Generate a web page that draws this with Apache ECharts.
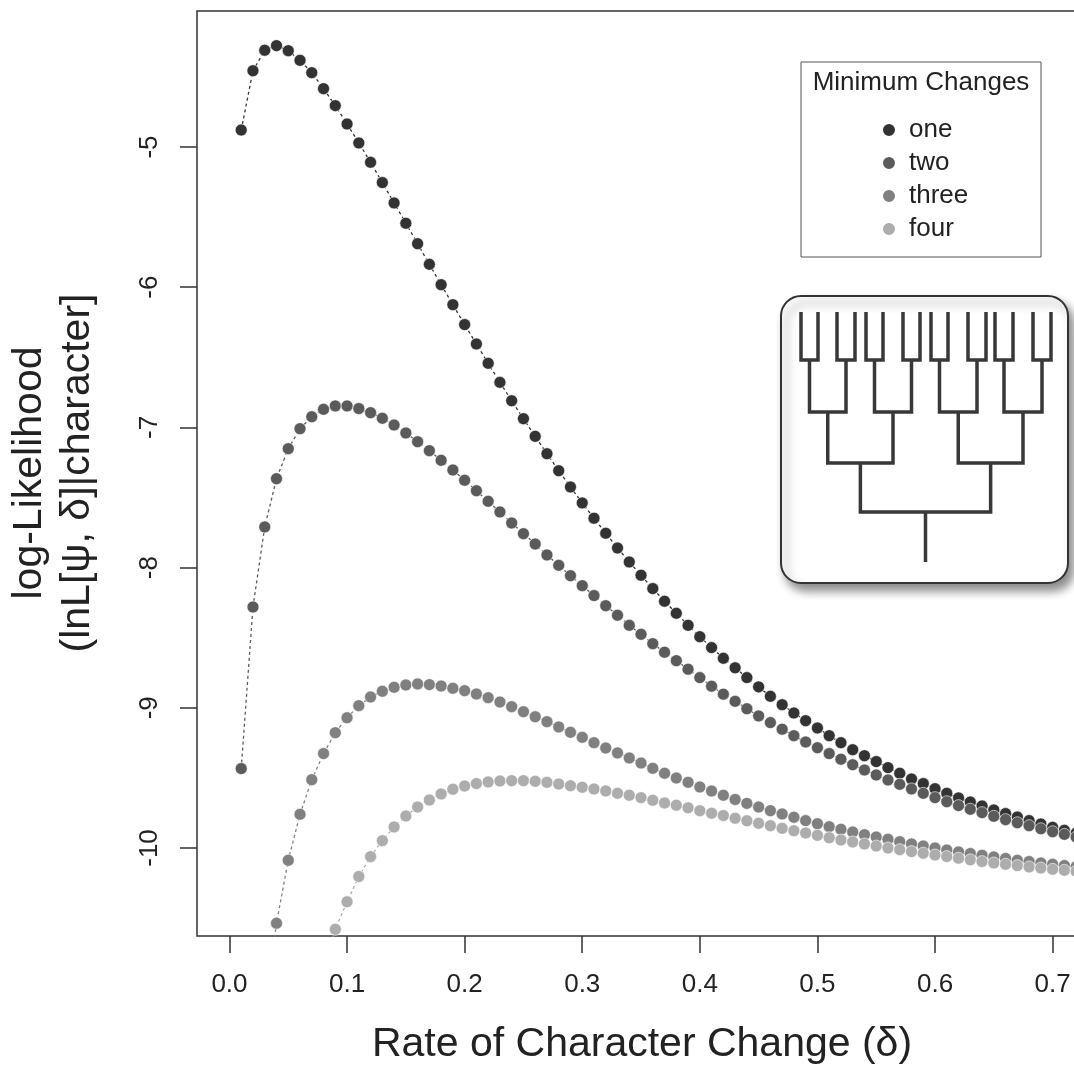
<!DOCTYPE html>
<html>
<head>
<meta charset="utf-8">
<script src="https://cdn.jsdelivr.net/npm/echarts@6/dist/echarts.min.js"></script>
<style>
html, body { margin: 0; padding: 0; background: #fff; }
#chart { width: 1074px; height: 1067px; }
</style>
</head>
<body>
<div id="chart"></div>
<script>
// rate of character change (x)
const rates = [
    0.01, 0.02, 0.03, 0.04, 0.05, 0.06, 0.07, 0.08, 0.09, 0.10,
    0.11, 0.12, 0.13, 0.14, 0.15, 0.16, 0.17, 0.18, 0.19, 0.20,
    0.21, 0.22, 0.23, 0.24, 0.25, 0.26, 0.27, 0.28, 0.29, 0.30,
    0.31, 0.32, 0.33, 0.34, 0.35, 0.36, 0.37, 0.38, 0.39, 0.40,
    0.41, 0.42, 0.43, 0.44, 0.45, 0.46, 0.47, 0.48, 0.49, 0.50,
    0.51, 0.52, 0.53, 0.54, 0.55, 0.56, 0.57, 0.58, 0.59, 0.60,
    0.61, 0.62, 0.63, 0.64, 0.65, 0.66, 0.67, 0.68, 0.69, 0.70,
    0.71, 0.72
];

// log-likelihood per minimum number of changes
const oneChange = [
    -4.879, -4.456, -4.310, -4.277, -4.313, -4.382, -4.470, -4.584, -4.705, -4.836,
    -4.971, -5.109, -5.254, -5.399, -5.544, -5.690, -5.837, -5.982, -6.125, -6.267,
    -6.405, -6.543, -6.679, -6.810, -6.938, -7.064, -7.188, -7.309, -7.425, -7.539,
    -7.648, -7.755, -7.860, -7.960, -8.055, -8.150, -8.240, -8.326, -8.412, -8.493,
    -8.571, -8.647, -8.715, -8.785, -8.851, -8.918, -8.978, -9.037, -9.092, -9.144,
    -9.199, -9.249, -9.299, -9.342, -9.384, -9.427, -9.467, -9.508, -9.541, -9.577,
    -9.610, -9.643, -9.672, -9.700, -9.729, -9.755, -9.779, -9.805, -9.829, -9.853,
    -9.874, -9.895
];
const twoChanges = [
    -9.434, -8.281, -7.710, -7.366, -7.152, -7.009, -6.924, -6.871, -6.847, -6.847,
    -6.866, -6.895, -6.935, -6.983, -7.040, -7.102, -7.166, -7.235, -7.304, -7.377,
    -7.452, -7.527, -7.603, -7.682, -7.758, -7.832, -7.910, -7.984, -8.058, -8.129,
    -8.200, -8.272, -8.340, -8.412, -8.476, -8.543, -8.604, -8.664, -8.725, -8.785,
    -8.846, -8.903, -8.954, -9.007, -9.058, -9.106, -9.153, -9.199, -9.244, -9.285,
    -9.327, -9.367, -9.406, -9.444, -9.479, -9.515, -9.546, -9.579, -9.610, -9.641,
    -9.670, -9.698, -9.724, -9.748, -9.774, -9.798, -9.820, -9.841, -9.863, -9.884,
    -9.903, -9.922
];
const threeChanges = [
    null, null, -11.15, -10.537, -10.088, -9.760, -9.513, -9.327, -9.178, -9.071,
    -8.985, -8.923, -8.882, -8.854, -8.837, -8.830, -8.835, -8.845, -8.861, -8.878,
    -8.902, -8.928, -8.959, -8.992, -9.028, -9.064, -9.099, -9.137, -9.175, -9.211,
    -9.249, -9.287, -9.322, -9.358, -9.394, -9.432, -9.467, -9.501, -9.532, -9.565,
    -9.594, -9.624, -9.654, -9.682, -9.708, -9.734, -9.757, -9.781, -9.805, -9.827,
    -9.848, -9.867, -9.886, -9.905, -9.922, -9.938, -9.955, -9.971, -9.986, -10.000,
    -10.015, -10.028, -10.040, -10.052, -10.064, -10.075, -10.088, -10.097, -10.107, -10.116,
    -10.126, -10.134
];
const fourChanges = [
    null, null, null, null, null, null, null, -10.85, -10.580, -10.384,
    -10.204, -10.062, -9.948, -9.850, -9.772, -9.708, -9.658, -9.615, -9.581, -9.558,
    -9.541, -9.529, -9.522, -9.520, -9.520, -9.524, -9.532, -9.544, -9.556, -9.567,
    -9.579, -9.593, -9.610, -9.624, -9.641, -9.660, -9.679, -9.695, -9.714, -9.734,
    -9.752, -9.769, -9.788, -9.806, -9.824, -9.841, -9.860, -9.877, -9.893, -9.910,
    -9.927, -9.943, -9.957, -9.971, -9.986, -10.000, -10.012, -10.026, -10.037, -10.050,
    -10.061, -10.073, -10.085, -10.097, -10.107, -10.116, -10.126, -10.135, -10.143, -10.152,
    -10.159, -10.166
];

const seriesNames = ['one', 'two', 'three', 'four'];
const seriesValues = [oneChange, twoChanges, threeChanges, fourChanges];
const seriesColors = ['#333333', '#5b5b5b', '#808080', '#adadad'];

// tick labels
const xTicks = [0.0, 0.1, 0.2, 0.3, 0.4, 0.5, 0.6, 0.7];
const yTicks = [-10, -9, -8, -7, -6, -5];

const FONT = "'Liberation Sans', Arial, Helvetica, sans-serif";
const INK = '#222';

// inset cladogram (16 tips, balanced)
const tipX = [801, 818, 837, 855, 866, 883, 903, 920, 931, 948, 968, 986, 995, 1013, 1033, 1051];
const treeLevelsY = [312, 360, 412, 463, 512, 562];

function buildTree() {
    const lines = [];
    let nodes = tipX.map(x => ({ x: x, y: treeLevelsY[0] }));
    let level = 1;
    while (nodes.length > 1) {
        const joinY = treeLevelsY[level];
        const next = [];
        for (let i = 0; i < nodes.length; i += 2) {
            const a = nodes[i], b = nodes[i + 1];
            lines.push([[a.x, a.y], [a.x, joinY], [b.x, joinY], [b.x, b.y]]);
            next.push({ x: (a.x + b.x) / 2, y: joinY });
        }
        nodes = next;
        level++;
    }
    const root = nodes[0];
    lines.push([[root.x, root.y], [root.x, treeLevelsY[treeLevelsY.length - 1]]]);
    return lines.map(pts => ({
        type: 'polyline',
        shape: { points: pts },
        style: { stroke: '#383838', lineWidth: 3.5, fill: null, lineJoin: 'miter' },
        z: 102
    }));
}

const chart = echarts.init(document.getElementById('chart'), null, { renderer: 'canvas' });

const series = seriesNames.map((name, i) => ({
    name: name,
    type: 'line',
    data: rates.map((r, k) => [r, seriesValues[i][k]]),
    symbol: 'circle',
    symbolSize: 12,
    showAllSymbol: true,
    connectNulls: false,
    clip: true,
    itemStyle: { color: seriesColors[i], borderColor: '#fff', borderWidth: 0.6 },
    lineStyle: { color: seriesColors[i], width: 1.3, type: [3, 3] },
    emphasis: { disabled: true }
}));

const option = {
    animation: false,
    backgroundColor: '#fff',
    grid: {
        left: 197,
        top: 11,
        width: 915,
        height: 925,
        outerBoundsMode: 'none',
        containLabel: false,
        show: true,
        borderColor: '#333',
        borderWidth: 1.5,
        backgroundColor: 'transparent'
    },
    xAxis: {
        type: 'value',
        min: -0.0276,
        max: 0.7505,
        axisLine: { show: false, onZero: false },
        splitLine: { show: false },
        axisTick: {
            show: true,
            inside: false,
            length: 17,
            customValues: xTicks,
            lineStyle: { color: '#333', width: 1.5 }
        },
        axisLabel: {
            customValues: xTicks,
            margin: 36,
            fontSize: 26,
            fontFamily: FONT,
            color: INK,
            formatter: v => v.toFixed(1)
        }
    },
    yAxis: {
        type: 'value',
        min: -10.628,
        max: -4.03,
        axisLine: { show: false, onZero: false },
        splitLine: { show: false },
        axisTick: {
            show: true,
            inside: false,
            length: 17,
            customValues: yTicks,
            lineStyle: { color: '#333', width: 1.5 }
        },
        axisLabel: {
            customValues: yTicks,
            rotate: 90,
            margin: 34,
            fontSize: 26,
            fontFamily: FONT,
            color: INK,
            formatter: v => String(v)
        }
    },
    legend: {
        data: seriesNames,
        orient: 'vertical',
        left: 876,
        top: 112,
        icon: 'circle',
        itemWidth: 14,
        itemHeight: 14,
        itemGap: 7,
        selectedMode: false,
        textStyle: {
            fontSize: 26,
            lineHeight: 26,
            fontFamily: FONT,
            color: INK,
            padding: [0, 0, 0, 8]
        }
    },
    graphic: [
        // legend frame and title
        {
            type: 'rect',
            shape: { x: 801, y: 62, width: 240, height: 195 },
            style: { fill: 'rgba(255,255,255,0)', stroke: '#555', lineWidth: 1 },
            z: 90
        },
        {
            type: 'text',
            x: 921, y: 83,
            style: {
                text: 'Minimum Changes', fontSize: 26, fontFamily: FONT, fill: INK,
                textAlign: 'center', textVerticalAlign: 'middle'
            },
            z: 91
        },
        // inset panel
        {
            type: 'rect',
            shape: { x: 781, y: 296, width: 287, height: 287, r: 20 },
            style: {
                fill: '#fff', stroke: '#333', lineWidth: 2,
                shadowBlur: 10, shadowOffsetX: 5, shadowOffsetY: 7,
                shadowColor: 'rgba(0,0,0,0.45)'
            },
            z: 100
        },
        ...buildTree(),
        // axis titles
        {
            type: 'text',
            x: 642, y: 1045,
            style: {
                text: 'Rate of Character Change (δ)', fontSize: 41, fontFamily: FONT, fill: INK,
                textAlign: 'center', textVerticalAlign: 'middle'
            }
        },
        {
            type: 'text',
            x: 30, y: 473,
            rotation: Math.PI / 2,
            style: {
                text: 'log-Likelihood', fontSize: 41, fontFamily: FONT, fill: INK,
                textAlign: 'center', textVerticalAlign: 'middle'
            }
        },
        {
            type: 'text',
            x: 78, y: 473,
            rotation: Math.PI / 2,
            style: {
                text: '(lnL[ψ, δ]|character]', fontSize: 41, fontFamily: FONT, fill: INK,
                textAlign: 'center', textVerticalAlign: 'middle'
            }
        }
    ],
    series: series
};

chart.setOption(option);
</script>
</body>
</html>
